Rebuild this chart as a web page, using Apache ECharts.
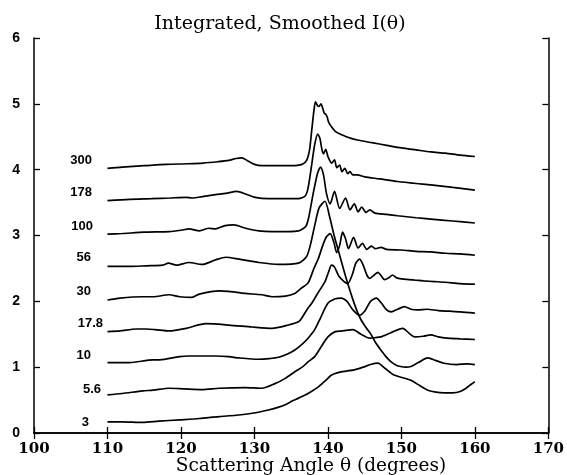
<!DOCTYPE html>
<html>
<head>
<meta charset="utf-8">
<script src="https://cdn.jsdelivr.net/npm/echarts@6/dist/echarts.min.js"></script>
<style>
html, body { margin: 0; padding: 0; background: #fff; }
#chart { width: 567px; height: 475px; }
</style>
</head>
<body>
<div id="chart"></div>
<script>
// size parameter of each curve (label at its left end)
var sizeLabels = ['300', '178', '100', '56', '30', '17.8', '10', '5.6', '3'];

// [angle, I]
var c300 = [[110,4.02],[112,4.04],[115,4.06],[118,4.08],[121,4.09],[123,4.10],[125,4.12],[126.5,4.14],[127.5,4.17],[128.3,4.18],[129,4.14],[130,4.08],[131,4.06],[133,4.06],[135,4.06],[136.5,4.08],[137.1,4.14],[137.5,4.3],[137.8,4.6],[138.1,4.9],[138.3,5.03],[138.6,4.97],[138.8,4.96],[139.05,5.0],[139.3,4.93],[139.5,4.86],[139.7,4.84],[139.9,4.8],[140.1,4.72],[140.5,4.65],[141,4.58],[141.5,4.55],[142.5,4.5],[144,4.45],[146,4.41],[148,4.37],[150,4.33],[152,4.3],[154,4.27],[156,4.25],[158,4.22],[160,4.2]];
var c178 = [[110,3.53],[113,3.55],[116,3.56],[118.5,3.57],[120.7,3.58],[121.5,3.57],[122.9,3.59],[124.7,3.62],[126.1,3.64],[127.6,3.67],[128.8,3.63],[130.1,3.58],[131.9,3.56],[134,3.56],[136,3.56],[136.9,3.6],[137.3,3.72],[137.8,4.08],[138.2,4.38],[138.6,4.54],[138.9,4.48],[139.2,4.3],[139.4,4.24],[139.7,4.31],[140,4.2],[140.5,4.1],[140.9,4.15],[141.2,4.03],[141.6,4.07],[141.9,3.97],[142.3,4.02],[142.7,3.94],[143,3.97],[143.4,3.92],[144,3.92],[145,3.89],[147,3.86],[149.5,3.82],[152,3.79],[154,3.77],[157,3.73],[160,3.69]];
var c100 = [[110,3.02],[112,3.03],[115,3.05],[118.4,3.06],[120,3.08],[121.1,3.1],[122.5,3.07],[123.8,3.11],[124.7,3.1],[126,3.15],[127.2,3.16],[128.8,3.11],[130.6,3.07],[132.4,3.06],[134.5,3.06],[136,3.07],[137,3.14],[137.4,3.28],[138,3.64],[138.6,3.95],[139,4.04],[139.4,3.92],[139.8,3.64],[140.3,3.48],[140.9,3.67],[141.6,3.41],[142.4,3.57],[143,3.39],[143.6,3.48],[144.1,3.36],[144.6,3.43],[145.2,3.35],[145.7,3.39],[146.4,3.34],[148,3.32],[149.5,3.3],[152,3.27],[154,3.25],[157,3.22],[160,3.19]];
var c56 = [[110,2.53],[113,2.53],[115.3,2.54],[117.5,2.55],[118.3,2.58],[119.4,2.55],[121.1,2.59],[122.9,2.56],[124.7,2.63],[126.1,2.67],[127.9,2.64],[130.6,2.59],[133.3,2.56],[136,2.58],[137.1,2.68],[137.6,2.85],[138.2,3.15],[138.8,3.42],[139.6,3.52],[140.2,3.3],[140.8,3.02],[141.4,2.78],[142.1,2.5],[142.7,2.27],[143.3,2.06],[143.9,1.87],[144.5,1.72],[145.2,1.6],[145.9,1.49],[146.5,1.37],[147.2,1.26],[147.9,1.16],[148.6,1.08],[149.3,1.03],[149.9,1.01],[150.6,1.0],[151.3,1.01],[152.3,1.07],[153.6,1.14],[154.7,1.1],[155.8,1.06],[157.5,1.04],[159,1.05],[160,1.04]];
var c30 = [[110,2.02],[111.7,2.05],[114.8,2.07],[116.2,2.07],[118.4,2.1],[119.8,2.07],[121.5,2.06],[122.5,2.11],[125.2,2.16],[126.5,2.15],[128.7,2.12],[131,2.1],[132.4,2.07],[134.2,2.08],[135.5,2.12],[136.4,2.2],[137.3,2.28],[138.1,2.5],[138.7,2.65],[139.3,2.85],[139.8,2.98],[140.3,3.03],[140.8,2.9],[141.2,2.74],[141.6,2.85],[142,3.05],[142.4,2.95],[142.8,2.8],[143.5,2.97],[144.1,2.81],[144.7,2.88],[145.3,2.79],[145.9,2.84],[146.5,2.8],[147.2,2.82],[148,2.79],[150,2.78],[152,2.76],[154,2.75],[156,2.73],[158,2.72],[160,2.7]];
var c17_8 = [[110,1.54],[111.7,1.55],[113.9,1.58],[115.3,1.58],[116.5,1.57],[118.4,1.55],[120.7,1.59],[123.4,1.66],[126.5,1.64],[129.7,1.61],[132.4,1.59],[134.6,1.64],[136,1.69],[136.4,1.74],[137.3,1.9],[137.8,1.97],[138.6,2.12],[139.6,2.3],[140.1,2.45],[140.5,2.55],[140.9,2.52],[141.5,2.38],[142.2,2.3],[142.7,2.27],[143.3,2.4],[143.8,2.58],[144.3,2.64],[144.8,2.55],[145.3,2.4],[145.7,2.35],[146.3,2.4],[146.8,2.44],[147.3,2.38],[147.7,2.33],[148.3,2.36],[148.8,2.4],[149.3,2.36],[150,2.34],[151,2.33],[152,2.32],[153,2.31],[154.5,2.3],[156,2.29],[158,2.27],[160,2.26]];
var c10 = [[110,1.07],[113,1.07],[116.2,1.11],[117.1,1.11],[119.8,1.16],[121.1,1.17],[124.7,1.17],[126.5,1.16],[127.9,1.14],[130.6,1.12],[132,1.13],[133.3,1.15],[134.5,1.2],[135.5,1.26],[136.5,1.35],[137.3,1.44],[138.2,1.57],[139,1.75],[140,1.97],[141,2.04],[141.8,2.05],[142.6,2.0],[143.4,1.87],[144.3,1.79],[145,1.85],[145.8,2.0],[146.6,2.05],[147.3,1.97],[148,1.87],[148.6,1.84],[149.5,1.88],[150.4,1.92],[151.3,1.88],[152.2,1.87],[153.5,1.88],[155,1.86],[156.5,1.85],[158,1.84],[160,1.82]];
var c5_6 = [[110,0.58],[112,0.6],[114.8,0.64],[116.2,0.65],[118.4,0.68],[120.5,0.67],[122.9,0.66],[125.2,0.68],[128.8,0.69],[131,0.68],[132.8,0.75],[134.2,0.83],[135.5,0.93],[136.5,1.0],[137.3,1.08],[138.2,1.16],[139.2,1.33],[140,1.46],[141,1.54],[142,1.55],[143.4,1.57],[144.5,1.5],[145.7,1.44],[146.5,1.45],[147.2,1.46],[148.5,1.52],[150.2,1.59],[151,1.52],[151.8,1.46],[153,1.47],[154,1.49],[155,1.46],[156.2,1.44],[158,1.43],[160,1.42]];
var c3 = [[110,0.17],[112,0.17],[114.8,0.16],[117,0.18],[119.8,0.2],[122.5,0.22],[125.2,0.25],[127.5,0.27],[129.7,0.3],[131.9,0.35],[133.2,0.39],[134.2,0.43],[135.2,0.49],[136,0.53],[137.3,0.6],[138.7,0.7],[139.7,0.8],[140.5,0.88],[141.5,0.92],[142.5,0.94],[143.6,0.96],[144.8,1.0],[145.8,1.04],[146.8,1.06],[147.8,0.98],[149,0.88],[150.2,0.84],[151.3,0.8],[152.5,0.72],[153.6,0.65],[154.7,0.62],[155.8,0.61],[157,0.61],[158,0.63],[158.8,0.68],[159.5,0.74],[160,0.78]];

var curves = [c300, c178, c100, c56, c30, c17_8, c10, c5_6, c3];

// where each size label sits: right edge (px) and shift above the curve start (px)
var labelRight = [92, 92, 93, 91, 91, 103, 91, 101, 89];
var labelDy = [-8, -8, -8, -9, -9, -8, -7, -5, 1];

var chart = echarts.init(document.getElementById('chart'));

var serif = '"DejaVu Serif", serif';
var sans = '"Liberation Sans", Arial, sans-serif';

var series = curves.map(function (pts) {
    return {
        type: 'line',
        data: pts,
        smooth: 0.25,
        symbol: 'none',
        lineStyle: { color: '#000', width: 1.7 },
        silent: true,
        animation: false
    };
});

var boxAxis = {
    axisLine: { show: true, lineStyle: { color: '#000', width: 1.5 } },
    axisTick: { show: true, inside: true, length: 6, lineStyle: { color: '#000', width: 1.3 } },
    splitLine: { show: false }
};

var option = {
    backgroundColor: '#fff',
    animation: false,
    title: {
        text: 'Integrated, Smoothed I(θ)',
        left: 275,
        textAlign: 'center',
        top: 10,
        textStyle: { color: '#000', fontFamily: serif, fontWeight: 'normal', fontSize: 19 }
    },
    grid: { left: 34, right: 15, top: 38, bottom: 42 },
    xAxis: [
        Object.assign({
            type: 'value', min: 100, max: 170, interval: 10, position: 'bottom',
            axisLabel: { margin: 9, color: '#000', fontFamily: serif, fontWeight: 'bold', fontSize: 15 }
        }, boxAxis),
        Object.assign({
            type: 'value', min: 100, max: 170, interval: 10, position: 'top',
            axisLabel: { show: false }
        }, boxAxis)
    ],
    yAxis: [
        Object.assign({
            type: 'value', min: 0, max: 6, interval: 1, position: 'left',
            axisLabel: { margin: 14, color: '#000', fontFamily: sans, fontWeight: 'bold', fontSize: 14 }
        }, boxAxis),
        Object.assign({
            type: 'value', min: 0, max: 6, interval: 1, position: 'right',
            axisLabel: { show: false }
        }, boxAxis)
    ],
    series: series
};

chart.setOption(option);

// size labels and x axis name as text placed from the curve starts
var texts = curves.map(function (pts, i) {
    var p = chart.convertToPixel({ gridIndex: 0 }, pts[0]);
    return {
        type: 'text',
        x: labelRight[i],
        y: p[1] + labelDy[i],
        style: {
            text: sizeLabels[i],
            align: 'right',
            verticalAlign: 'middle',
            fill: '#000',
            font: 'bold 13px ' + sans
        },
        silent: true
    };
});
texts.push({
    type: 'text',
    x: 311,
    y: 466,
    style: {
        text: 'Scattering Angle θ (degrees)',
        align: 'center',
        verticalAlign: 'middle',
        fill: '#000',
        font: '18.5px ' + serif
    },
    silent: true
});
chart.setOption({ graphic: texts });
</script>
</body>
</html>
